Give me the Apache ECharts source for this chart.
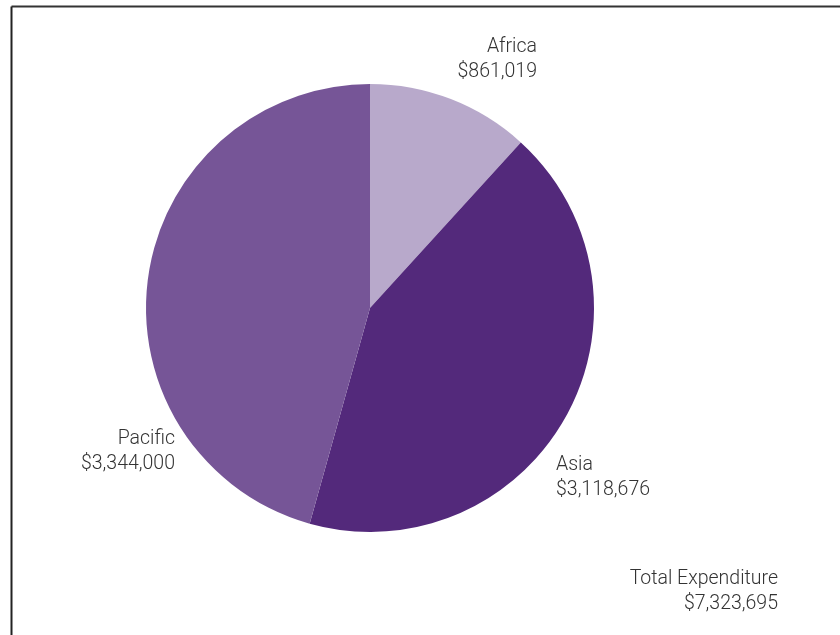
<!DOCTYPE html>
<html>
<head>
<meta charset="utf-8">
<script src="https://cdn.jsdelivr.net/npm/echarts@6/dist/echarts.min.js"></script>
<style>
  html, body { margin: 0; padding: 0; background: #fff; }
  #chart { width: 840px; height: 635px; }
</style>
</head>
<body>
<div id="chart"></div>
<script>
// Expenditure by region
const regions = ['Africa', 'Asia', 'Pacific'];
const expenditure = [861019, 3118676, 3344000];
const sliceColors = ['#b8a9cb', '#53297b', '#765597'];

// Where each region's label sits (right edge for right-aligned, left edge otherwise)
const labelSpots = [
  { x: 537, y: 60, align: 'right' },
  { x: 556, y: 478, align: 'left' },
  { x: 175, y: 452, align: 'right' }
];

const fmt = v => '$' + v.toLocaleString('en-US');
const total = expenditure.reduce((a, b) => a + b, 0);
const FONT = 'Roboto, "Noto Sans", sans-serif';
const FONT_SIZE = 19.5;

const chart = echarts.init(document.getElementById('chart'), null, { renderer: 'canvas' });
chart.setOption({
  animation: false,
  backgroundColor: '#fff',
  graphic: [
    { type: 'line', shape: { x1: 11.5, y1: 6.5, x2: 840, y2: 6.5 }, style: { stroke: '#333', lineWidth: 2 } },
    { type: 'line', shape: { x1: 11.5, y1: 6.5, x2: 11.5, y2: 635 }, style: { stroke: '#222', lineWidth: 2 } },
    {
      type: 'text', x: 778, y: 567,
      style: {
        text: 'Total Expenditure\n' + fmt(total),
        align: 'right', verticalAlign: 'top', fill: '#333',
        font: '300 ' + FONT_SIZE + 'px ' + FONT, lineHeight: 25
      }
    }
  ],
  series: [{
    type: 'pie',
    center: [370, 308],
    radius: [0, 224],
    startAngle: 90,
    clockwise: true,
    silent: true,
    data: regions.map((name, i) => ({
      name, value: expenditure[i], itemStyle: { color: sliceColors[i] }
    })),
    label: {
      show: true,
      position: 'outside',
      formatter: p => p.name + '\n' + fmt(p.value),
      color: '#333',
      fontSize: FONT_SIZE,
      fontWeight: 300,
      fontFamily: FONT,
      lineHeight: 25,
      overflow: 'none'
    },
    labelLine: { show: false },
    labelLayout: p => {
      const s = labelSpots[p.dataIndex];
      return { x: s.x, y: s.y, align: s.align, verticalAlign: 'middle' };
    }
  }]
});
</script>
</body>
</html>
